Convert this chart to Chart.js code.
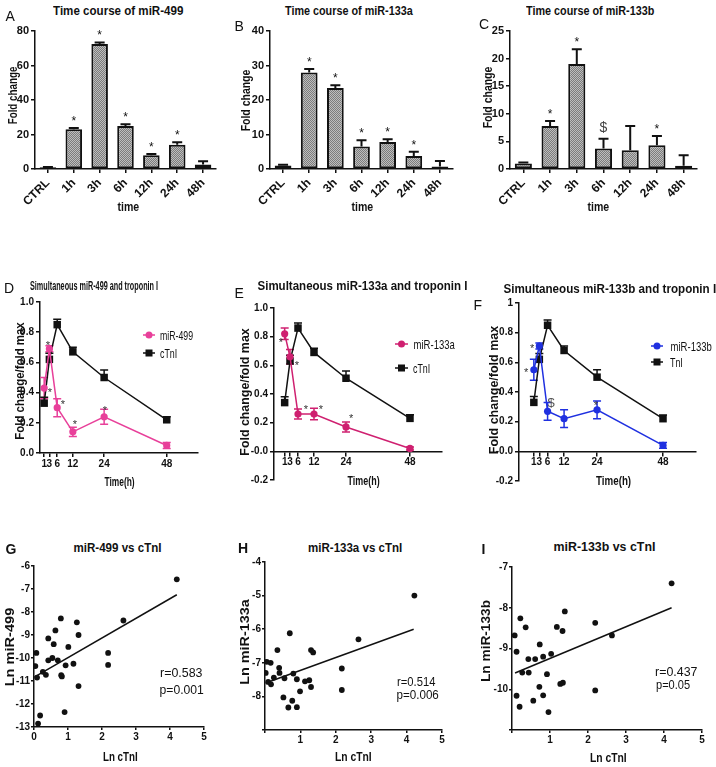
<!DOCTYPE html>
<html>
<head>
<meta charset="utf-8">
<script src="https://cdn.jsdelivr.net/npm/chart.js@4"></script>
<style>
    body { margin: 0; background: #fff; width: 716px; height: 767px; position: relative; overflow: hidden; font-family: 'Liberation Sans', Arial, sans-serif; }
    canvas { position: absolute; }
    .t { position: absolute; white-space: nowrap; color: #111; line-height: 1; }
</style>
</head>
<body>
<script>
// ===== Top row: fold change time course (bars) =====
const timeLabels = ['CTRL', '1h', '3h', '6h', '12h', '24h', '48h'];
const mir499Fold = [1, 23, 72.5, 25, 8, 14, 2.6];
const mir499FoldErr = [0.2, 0.7, 0.8, 0.9, 0.7, 1.5, 1.9];
const mir499FoldMarks = ['', '*', '*', '*', '*', '*', ''];
const mir133aFold = [1, 28, 23.5, 6.5, 7.8, 3.8, 0.7];
const mir133aFoldErr = [0.2, 1.0, 0.8, 1.8, 0.8, 1.2, 1.6];
const mir133aFoldMarks = ['', '*', '*', '*', '*', '*', ''];
const mir133bFold = [1, 7.8, 19, 3.7, 3.4, 4.3, 0.6];
const mir133bFoldErr = [0.2, 0.9, 2.7, 1.8, 4.4, 1.7, 1.9];
const mir133bFoldMarks = ['', '*', '*', '$', '', '*', ''];

// ===== Middle row: fold change / fold max vs time =====
const hours = [1, 3, 6, 12, 24, 48];
const relMir499 = [0.43, 0.69, 0.30, 0.14, 0.24, 0.05];
const relMir499Err = [0.07, 0.02, 0.06, 0.03, 0.05, 0.02];
const relTnID = [0.33, 0.62, 0.85, 0.67, 0.50, 0.22];
const relTnIDErr = [0.04, 0.04, 0.035, 0.03, 0.05, 0.02];
const relMir133a = [0.82, 0.66, 0.26, 0.26, 0.17, 0.02];
const relMir133aErr = [0.04, 0.05, 0.035, 0.04, 0.035, 0.01];
const relTnIE = [0.34, 0.63, 0.86, 0.69, 0.51, 0.23];
const relTnIEErr = [0.04, 0.04, 0.035, 0.03, 0.05, 0.025];
const relMir133b = [0.55, 0.71, 0.27, 0.22, 0.28, 0.04];
const relMir133bErr = [0.07, 0.02, 0.06, 0.06, 0.06, 0.02];
const relTnIF = [0.33, 0.62, 0.85, 0.68, 0.50, 0.22];
const relTnIFErr = [0.04, 0.04, 0.035, 0.03, 0.05, 0.025];
const starsDX = [2.4, 3.2, 8.2, 12.8, 24.3];
const starsDY = [0.73, 0.42, 0.34, 0.21, 0.30];
const starsDT = ['*', '*', '*', '*', '*'];
const starsEX = [-0.4, 5.6, 9.0, 14.6, 25.9];
const starsEY = [0.78, 0.62, 0.31, 0.31, 0.25];
const starsET = ['*', '*', '*', '*', '*'];
const starsFX = [-1.8, 0.4, 7.3, 23.6];
const starsFY = [0.55, 0.71, 0.33, 0.33];
const starsFT = ['*', '*', '$', '*'];

// ===== Bottom row: correlations (Ln values) =====
const lnTnIG = [0.04, 0.07, 0.09, 0.12, 0.18, 0.26, 0.35, 0.42, 0.42, 0.54, 0.58, 0.63, 0.70, 0.79, 0.80, 0.82, 0.90, 0.93, 1.01, 1.16, 1.26, 1.31, 1.31, 2.18, 2.18, 2.63, 4.20];
const lnMir499 = [-10.35, -9.78, -10.85, -12.85, -12.5, -10.6, -10.73, -9.15, -10.1, -10.0, -9.4, -8.8, -10.1, -8.28, -10.75, -10.8, -12.35, -10.32, -9.52, -10.25, -8.45, -9.0, -11.22, -9.78, -10.3, -8.37, -6.58];
const fitGX = [0.02, 4.2];
const fitGY = [-10.82, -7.25];
const lnTnIH = [0.02, 0.05, 0.09, 0.16, 0.17, 0.25, 0.35, 0.40, 0.41, 0.52, 0.55, 0.66, 0.70, 0.77, 0.80, 0.90, 0.90, 0.99, 1.13, 1.25, 1.30, 1.30, 1.36, 2.17, 2.17, 2.64, 4.22];
const lnMir133a = [-7.3, -6.97, -7.57, -7.0, -7.64, -7.44, -6.62, -7.15, -7.3, -8.03, -7.46, -8.33, -6.12, -8.13, -7.32, -7.49, -8.32, -7.85, -7.55, -7.52, -7.72, -6.62, -6.69, -7.17, -7.81, -6.3, -5.0];
const fitHX = [0.02, 4.2];
const fitHY = [-7.6, -6.0];
const lnTnII = [0.07, 0.12, 0.12, 0.20, 0.22, 0.27, 0.36, 0.43, 0.44, 0.56, 0.61, 0.73, 0.72, 0.82, 0.82, 0.92, 0.96, 1.03, 1.18, 1.27, 1.33, 1.34, 1.39, 2.19, 2.19, 2.63, 4.20];
const lnMir133b = [-8.68, -9.08, -10.16, -10.43, -8.26, -9.59, -8.48, -9.26, -9.59, -10.28, -9.26, -8.9, -9.94, -9.2, -10.15, -9.63, -10.56, -9.13, -8.47, -9.87, -8.57, -9.84, -8.09, -8.37, -10.03, -8.68, -7.4];
const fitIX = [0.08, 4.2];
const fitIY = [-9.6, -8.0];

const INK = '#111';
const PINK_D = '#e8409a';
const PINK_E = '#cf2070';
const BLUE_F = '#1f30e0';
const tickFamily = "'Liberation Sans', Arial, sans-serif";

// ============ HELPERS ============

function tickFont(size) {
    return { family: tickFamily, size: size, weight: 'bold' };
}

function makeCanvas(box) {
    const c = document.createElement('canvas');
    c.width = box.w;
    c.height = box.h;
    c.style.left = box.x + 'px';
    c.style.top = box.y + 'px';
    c.style.width = box.w + 'px';
    c.style.height = box.h + 'px';
    document.body.appendChild(c);
    return c;
}

function padFor(box, area, bottomAxis) {
    return {
        left: 0,
        top: area.t - box.y,
        right: box.x + box.w - area.r,
        bottom: bottomAxis ? 0 : box.y + box.h - area.b
    };
}

function axisStyle() {
    return {
        grid: { drawOnChartArea: false, tickLength: 4, color: INK, lineWidth: 1.5 },
        border: { color: INK, width: 1.5 }
    };
}

function grainPattern(ctx) {
    const c = document.createElement('canvas');
    c.width = 2; c.height = 2;
    const x = c.getContext('2d');
    x.fillStyle = '#7c7c7c';
    x.fillRect(0, 0, 2, 2);
    x.fillStyle = '#bdbdbd';
    x.fillRect(0, 0, 1, 1);
    x.fillRect(1, 1, 1, 1);
    return ctx.createPattern(c, 'repeat');
}

function drawErrors(chart) {
    const ctx = chart.ctx;
    const ys = chart.scales.y;
    chart.data.datasets.forEach((ds, di) => {
        if (!ds.err) return;
        const meta = chart.getDatasetMeta(di);
        ctx.save();
        ctx.strokeStyle = ds.errColor || ds.borderColor;
        ctx.lineWidth = ds.errWidth || 1.5;
        meta.data.forEach((el, i) => {
            const d = ds.data[i];
            const v = typeof d === 'object' ? d.y : d;
            const e = ds.err[i];
            const ends = [];
            if (ds.errDir !== 'down') ends.push(ys.getPixelForValue(v + e));
            if (ds.errDir !== 'up') ends.push(ys.getPixelForValue(v - e));
            const cap = ds.capHalf || 4;
            ctx.beginPath();
            for (const end of ends) {
                ctx.moveTo(el.x, el.y);
                ctx.lineTo(el.x, end);
                ctx.moveTo(el.x - cap, end);
                ctx.lineTo(el.x + cap, end);
            }
            ctx.stroke();
            // significance marks above bars
            if (ds.marks && ds.marks[i]) {
                const t = ds.marks[i];
                const top = ys.getPixelForValue(v + e);
                const size = t === '$' ? 14 : 12;
                ctx.fillStyle = t === '$' ? '#444' : INK;
                ctx.font = `${size}px 'Liberation Sans', sans-serif`;
                ctx.textAlign = 'center';
                ctx.textBaseline = 'alphabetic';
                const lift = t === '$' ? 12 : 10;
                ctx.fillText(t, el.x, top - lift + (t === '$' ? 0.36 : 0.57) * size);
            }
        });
        ctx.restore();
    });
}

const errorBars = {
    id: 'errorBars',
    beforeDatasetsDraw(chart) { if (chart.config.type !== 'bar') drawErrors(chart); },
    afterDatasetsDraw(chart) { if (chart.config.type === 'bar') drawErrors(chart); }
};

function starPlugin(xs, ys, ts, color) {
    return {
        id: 'stars',
        afterDatasetsDraw(chart) {
            const ctx = chart.ctx, sx = chart.scales.x, sy = chart.scales.y;
            ctx.save();
            ctx.textAlign = 'center';
            ctx.textBaseline = 'alphabetic';
            xs.forEach((x, i) => {
                const t = ts[i];
                const size = t === '$' ? 13 : 11;
                ctx.fillStyle = t === '$' ? '#555' : color;
                ctx.font = `${size}px 'Liberation Sans', sans-serif`;
                ctx.fillText(t, sx.getPixelForValue(x), sy.getPixelForValue(ys[i]) + (t === '$' ? 0.36 : 0.57) * size);
            });
            ctx.restore();
        }
    };
}

function keyPlugin(box, items) {
    return {
        id: 'key',
        afterDraw(chart) {
            const ctx = chart.ctx;
            items.forEach(it => {
                const y = it.y - box.y, x1 = it.x1 - box.x, x2 = it.x2 - box.x, xm = (x1 + x2) / 2;
                ctx.save();
                ctx.strokeStyle = it.color;
                ctx.fillStyle = it.color;
                ctx.lineWidth = 1.5;
                ctx.beginPath();
                ctx.moveTo(x1, y);
                ctx.lineTo(x2, y);
                ctx.stroke();
                if (it.style === 'rect') {
                    ctx.fillRect(xm - 3.5, y - 3.5, 7, 7);
                } else {
                    ctx.beginPath();
                    ctx.arc(xm, y, 3.5, 0, Math.PI * 2);
                    ctx.fill();
                }
                ctx.restore();
            });
        }
    };
}

function addText(str, cx, cy, size, bold, width, rot) {
    const d = document.createElement('div');
    d.className = 't';
    d.textContent = str;
    d.style.fontSize = size + 'px';
    d.style.fontWeight = bold ? 'bold' : 'normal';
    document.body.appendChild(d);
    const w = d.offsetWidth, h = d.offsetHeight;
    const sx = width ? width / w : 1;
    d.style.left = (cx - w / 2) + 'px';
    d.style.top = (cy - h / 2) + 'px';
    d.style.transform = `rotate(${rot || 0}deg) scaleX(${sx})`;
    return d;
}

// ============ PANEL BUILDERS ============

function barPanel(box, area, values, errs, marks, yMax, yStep) {
    const cv = makeCanvas(box);
    const ax = axisStyle();
    return new Chart(cv, {
        type: 'bar',
        data: {
            labels: timeLabels,
            datasets: [{
                data: values,
                err: errs,
                errDir: 'up',
                errColor: INK,
                errWidth: 2,
                capHalf: 5,
                marks: marks,
                backgroundColor: grainPattern(cv.getContext('2d')),
                borderColor: INK,
                borderWidth: 2,
                borderSkipped: false,
                categoryPercentage: 1,
                barPercentage: 0.64,
            }]
        },
        options: {
            responsive: false,
            animation: false,
            events: [],
            layout: { padding: padFor(box, area, true) },
            plugins: { legend: { display: false }, tooltip: { enabled: false } },
            scales: {
                x: {
                    grid: { ...ax.grid, offset: false },
                    border: ax.border,
                    ticks: { minRotation: 45, maxRotation: 45, font: tickFont(12), color: INK, padding: 3 },
                    afterFit: s => { s.height = box.y + box.h - area.b; }
                },
                y: {
                    min: 0,
                    max: yMax,
                    grid: ax.grid,
                    border: ax.border,
                    ticks: { stepSize: yStep, font: tickFont(11), color: INK, padding: 2 },
                    afterFit: s => { s.width = area.l - box.x; }
                }
            }
        },
        plugins: [errorBars]
    });
}

function linePanel(box, area, xMin, yMin, series, stars, keys, axisOnZero, topLabel) {
    const cv = makeCanvas(box);
    const ax = axisStyle();
    const datasets = series.map(s => ({
        label: s.label,
        data: hours.map((h, i) => ({ x: h, y: s.ys[i] })),
        err: s.err,
        errDir: s.dir,
        capHalf: 4,
        borderColor: s.color,
        backgroundColor: s.color,
        pointStyle: s.style,
        pointRadius: s.style === 'rect' ? 5.3 : 3.6,
        pointBorderWidth: 0,
        borderWidth: 1.5,
        tension: 0,
    }));
    return new Chart(cv, {
        type: 'line',
        data: { datasets: datasets },
        options: {
            responsive: false,
            animation: false,
            events: [],
            layout: { padding: padFor(box, area, !axisOnZero) },
            plugins: { legend: { display: false }, tooltip: { enabled: false } },
            scales: {
                x: {
                    type: 'linear',
                    position: axisOnZero ? { y: 0 } : 'bottom',
                    min: xMin,
                    max: 60,
                    grid: ax.grid,
                    border: ax.border,
                    afterBuildTicks: s => { s.ticks = hours.map(v => ({ value: v })); },
                    ticks: { autoSkip: false, maxRotation: 0, minRotation: 0, font: tickFont(10), color: INK, padding: 1 },
                    afterFit: s => { if (!axisOnZero) s.height = box.y + box.h - area.b; }
                },
                y: {
                    min: yMin,
                    max: 1,
                    grid: ax.grid,
                    border: ax.border,
                    ticks: {
                        stepSize: 0.2, font: tickFont(10), color: INK, padding: 2,
                        callback: v => (Math.abs(v - 1) < 1e-9 && topLabel) ? topLabel : v.toFixed(1)
                    },
                    afterFit: s => { s.width = area.l - box.x; }
                }
            }
        },
        plugins: [errorBars, starPlugin(stars.xs, stars.ys, stars.ts, '#333'), keyPlugin(box, keys)]
    });
}

function scatterPanel(box, area, xs, ys, fitX, fitY, yMin, yMax, hideEnds) {
    const cv = makeCanvas(box);
    const ax = axisStyle();
    return new Chart(cv, {
        type: 'scatter',
        data: {
            datasets: [{
                data: xs.map((x, i) => ({ x: x, y: ys[i] })),
                backgroundColor: INK,
                borderColor: INK,
                pointRadius: 2.9,
                pointBorderWidth: 0,
            }, {
                type: 'line',
                data: fitX.map((x, i) => ({ x: x, y: fitY[i] })),
                borderColor: INK,
                borderWidth: 1.5,
                pointRadius: 0,
                showLine: true,
            }]
        },
        options: {
            responsive: false,
            animation: false,
            events: [],
            layout: { padding: padFor(box, area, true) },
            plugins: { legend: { display: false }, tooltip: { enabled: false } },
            scales: {
                x: {
                    type: 'linear',
                    min: 0,
                    max: 5,
                    grid: { ...ax.grid, tickLength: 3 },
                    border: ax.border,
                    ticks: {
                        stepSize: 1, font: tickFont(10), color: INK, padding: 1,
                        callback: v => (hideEnds && v === 0) ? '' : v
                    },
                    afterFit: s => { s.height = box.y + box.h - area.b; }
                },
                y: {
                    min: yMin,
                    max: yMax,
                    grid: { ...ax.grid, tickLength: 3 },
                    border: ax.border,
                    ticks: {
                        stepSize: 1, font: tickFont(10), color: INK, padding: 1,
                        callback: v => (hideEnds && v === yMin) ? '' : v
                    },
                    afterFit: s => { s.width = area.l - box.x; }
                }
            }
        }
    });
}

// ============ BUILD ============

// Top row
barPanel({ x: 0, y: 20, w: 235, h: 195 }, { l: 35, t: 31, r: 216, b: 169 },
    mir499Fold, mir499FoldErr, mir499FoldMarks, 80, 20);
barPanel({ x: 235, y: 20, w: 235, h: 195 }, { l: 270, t: 31, r: 453, b: 169 },
    mir133aFold, mir133aFoldErr, mir133aFoldMarks, 40, 10);
barPanel({ x: 470, y: 20, w: 246, h: 195 }, { l: 510, t: 31, r: 697, b: 169 },
    mir133bFold, mir133bFoldErr, mir133bFoldMarks, 25, 5);

// Middle row
const boxD = { x: 0, y: 290, w: 235, h: 205 };
linePanel(boxD, { l: 40, t: 302, r: 198, b: 453 }, -0.6, 0, [
    { label: 'miR-499', ys: relMir499, err: relMir499Err, dir: 'both', color: PINK_D, style: 'circle' },
    { label: 'cTnI', ys: relTnID, err: relTnIDErr, dir: 'up', color: INK, style: 'rect' },
], { xs: starsDX, ys: starsDY, ts: starsDT }, [
    { x1: 143, x2: 155, y: 335, color: PINK_D, style: 'circle' },
    { x1: 143, x2: 155, y: 353, color: INK, style: 'rect' },
], false, null);

const boxE = { x: 235, y: 290, w: 235, h: 205 };
linePanel(boxE, { l: 274, t: 308, r: 442, b: 480 }, -3, -0.2, [
    { label: 'miR-133a', ys: relMir133a, err: relMir133aErr, dir: 'both', color: PINK_E, style: 'circle' },
    { label: 'cTnI', ys: relTnIE, err: relTnIEErr, dir: 'up', color: INK, style: 'rect' },
], { xs: starsEX, ys: starsEY, ts: starsET }, [
    { x1: 395, x2: 408, y: 344, color: PINK_E, style: 'circle' },
    { x1: 395, x2: 408, y: 368, color: INK, style: 'rect' },
], true, null);

const boxF = { x: 470, y: 290, w: 246, h: 205 };
linePanel(boxF, { l: 519, t: 303, r: 696, b: 481 }, -4.4, -0.2, [
    { label: 'miR-133b', ys: relMir133b, err: relMir133bErr, dir: 'both', color: BLUE_F, style: 'circle' },
    { label: 'TnI', ys: relTnIF, err: relTnIFErr, dir: 'up', color: INK, style: 'rect' },
], { xs: starsFX, ys: starsFY, ts: starsFT }, [
    { x1: 651, x2: 663, y: 346, color: BLUE_F, style: 'circle' },
    { x1: 651, x2: 663, y: 362, color: INK, style: 'rect' },
], true, '1');

// Bottom row
scatterPanel({ x: 0, y: 555, w: 235, h: 212 }, { l: 34, t: 566, r: 204, b: 727 },
    lnTnIG, lnMir499, fitGX, fitGY, -13, -6, false);
scatterPanel({ x: 235, y: 555, w: 235, h: 212 }, { l: 265, t: 562, r: 442, b: 730 },
    lnTnIH, lnMir133a, fitHX, fitHY, -9, -4, true);
scatterPanel({ x: 470, y: 555, w: 246, h: 212 }, { l: 512, t: 567, r: 702, b: 730 },
    lnTnII, lnMir133b, fitIX, fitIY, -11, -7, true);

// ============ TEXT ============

// top row
addText('Time course of miR-499', 118, 10, 13, true, 130);
addText('Time course of miR-133a', 349, 10, 13, true, 128);
addText('Time course of miR-133b', 590, 10, 13, true, 128);
addText('A', 10, 16, 14, false);
addText('B', 239, 26, 14, false);
addText('C', 484, 24, 14, false);
addText('Fold change', 12.5, 95, 13, true, 58, -90);
addText('Fold change', 245, 100, 13, true, 62, -90);
addText('Fold change', 487, 97, 13, true, 62, -90);
addText('time', 128, 207, 12, true, 22);
addText('time', 362, 207, 12, true, 22);
addText('time', 598, 207, 12, true, 22);

// middle row
addText('Simultaneous miR-499 and troponin I', 94, 286, 12, true, 128);
addText('Simultaneous miR-133a and troponin I', 362, 285, 13, true, 210);
addText('Simultaneous miR-133b and troponin I', 610, 288, 13, true, 213);
addText('D', 9, 288, 14, false);
addText('E', 239, 293, 14, false);
addText('F', 478, 305, 14, false);
addText('Fold change/fold max', 19, 381, 12, true, 117, -90);
addText('Fold change/fold max', 244, 392, 12, true, 127, -90);
addText('Fold change/fold max', 493, 390, 12, true, 128, -90);
addText('Time(h)', 119, 482, 12, true, 30);
addText('Time(h)', 363, 481, 12, true, 32);
addText('Time(h)', 613, 481, 12, true, 35);
addText('miR-499', 176.5, 335, 13, false, 33);
addText('cTnI', 168.5, 353, 13, false, 17);
addText('miR-133a', 433.5, 344, 13, false, 41);
addText('cTnI', 421.5, 368, 13, false, 17);
addText('miR-133b', 690.5, 346, 13, false, 41);
addText('TnI', 676.5, 362, 13, false, 13);

// bottom row
addText('miR-499 vs cTnI', 117.5, 547, 13, true, 88);
addText('miR-133a vs cTnI', 355, 547, 13, true, 94);
addText('miR-133b vs cTnI', 604, 546, 13, true, 102);
addText('G', 11, 549, 14, true);
addText('H', 243, 548, 14, true);
addText('I', 483.5, 549, 14, true);
addText('Ln miR-499', 10, 647, 12, true, 79, -90);
addText('Ln miR-133a', 244.5, 642, 12, true, 85, -90);
addText('Ln miR-133b', 485.5, 641, 12, true, 82, -90);
addText('Ln cTnI', 120.5, 757, 12, true, 35);
addText('Ln cTnI', 353.5, 757, 12, true, 37);
addText('Ln cTnI', 608.5, 758, 12, true, 37);
addText('r=0.583', 181, 672, 13, false, 42);
addText('p=0.001', 181, 689, 13, false, 44);
addText('r=0.514', 416, 681, 13, false, 38);
addText('p=0.006', 417, 694, 13, false, 42);
addText('r=0.437', 676, 671, 13, false, 42);
addText('p=0.05', 673, 684, 13, false, 34);
</script>
</body>
</html>
